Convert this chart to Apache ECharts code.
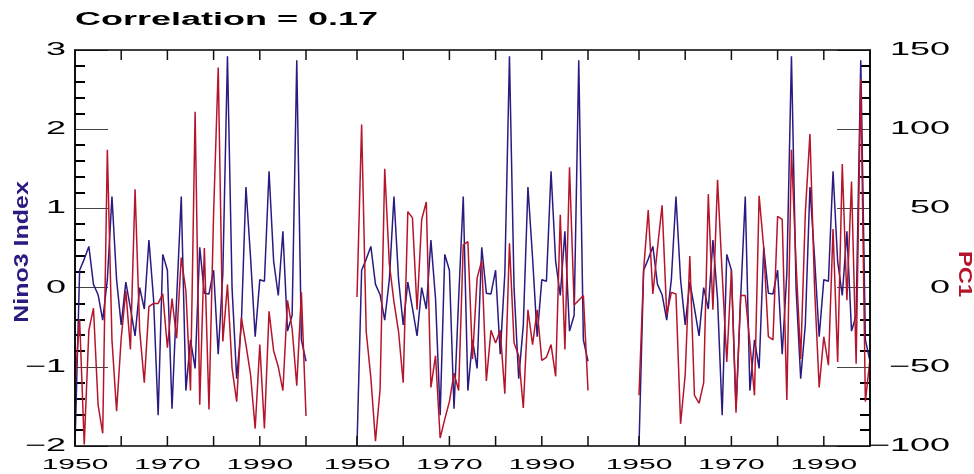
<!DOCTYPE html>
<html>
<head>
<meta charset="utf-8">
<script src="https://cdn.jsdelivr.net/npm/echarts@6/dist/echarts.min.js"></script>
<style>
  html, body { margin: 0; padding: 0; background: #ffffff; }
  #chart { width: 974px; height: 474px; background: #ffffff; }
</style>
</head>
<body>
<div id="chart"></div>
<script>
// Winter (DJF) values, one per year
const years = [
  1950, 1951, 1952, 1953, 1954, 1955, 1956, 1957, 1958, 1959,
  1960, 1961, 1962, 1963, 1964, 1965, 1966, 1967, 1968, 1969,
  1970, 1971, 1972, 1973, 1974, 1975, 1976, 1977, 1978, 1979,
  1980, 1981, 1982, 1983, 1984, 1985, 1986, 1987, 1988, 1989,
  1990, 1991, 1992, 1993, 1994, 1995, 1996, 1997, 1998, 1999, 2000
];

// Nino3 index (left axis)
const nino3 = [
  -2.00, 0.22, 0.36, 0.52, 0.04, -0.09, -0.41, 0.10, 1.15, 0.10,
  -0.47, 0.07, -0.26, -0.61, 0.00, -0.27, 0.60, -0.14, -1.61, 0.42,
  0.22, -1.53, -0.14, 1.15, -1.30, -0.66, -1.02, 0.51, -0.07, -0.08,
  0.22, -0.84, 0.18, 2.92, -0.01, -1.15, -0.47, 1.27, 0.38, -0.62,
  0.10, 0.08, 1.47, 0.33, -0.10, 0.71, -0.55, -0.35, 2.87, -0.66, -0.93
];

// PC1 of the three fields (right axis)
const pc1First = [
  -60, -20, -99, -27, -13, -74, -92, 87, -33, -78,
  -32, -2, -39, 62, -27, -60, -12, -10, -10, -4,
  -38, -7, -32, 19, -2, -65, 111, -74, 25, -77,
  47, 139, -34, 2, -51, -72, -19, -36, -55, -89,
  -36, -89, -15, -40, -50, -65, -8, -26, -62, -3, -81
];
const pc1Second = [
  -6, 103, -28, -57, -97, -64, 75, 15, -9, -28,
  -60, 48, 44, -14, 43, 54, -63, -43, -95, -83,
  -72, -54, -65, 27, 29, -45, 6, 17, -59, -27,
  -35, -27, -67, 28, -35, -43, -76, -14, -36, -14,
  -46, -44, -36, -56, 46, -39, 76, -11, -8, -5, -65
];
const pc1Third = [
  -68, 11, 49, -4, 25, 52, -17, -3, -4, -86,
  -55, 20, -68, -73, -60, 59, -14, 68, 9, -47,
  11, -79, -5, -5, -35, -68, 58, 25, -31, -33,
  45, 43, -71, 87, 15, -45, 47, 97, 0, -63,
  -31, -49, 37, -47, 78, -8, 67, -48, 132, -72, -45
];

// ticks and tick labels
const tickYears = [1950, 1960, 1970, 1980, 1990, 2000];
const labelYears = [1950, 1970, 1990];
const ninoTicks = [-2, -1, 0, 1, 2, 3];
const pcTicks = [-100, -50, 0, 50, 100, 150];
const correlation = 0.17;

const BLUE = '#2b1a80';
const RED = '#b5152b';
const FONT = '"Liberation Sans", Arial, Helvetica, sans-serif';
// expanded lettering: horizontal text is drawn twice as wide, turned text a little wider
const WIDE = 2.0;
const WIDE_TURNED = 1.25;

const chart = echarts.init(document.getElementById('chart'), null, { renderer: 'canvas' });

const PLOT_TOP = 50;
const PLOT_HEIGHT = 396;
const panelLefts = [75, 357, 639];
const PANEL_WIDTH = 231;
const pcSets = [pc1First, pc1Second, pc1Third];

const minus = v => (v < 0 ? '\u2212' + Math.abs(v) : String(v));

const grids = panelLefts.map(left => ({ left: left, top: PLOT_TOP, width: PANEL_WIDTH, height: PLOT_HEIGHT }));
// frame spanning all three panels (carries the two value axes)
grids.push({ left: 75, top: PLOT_TOP, width: 795, height: PLOT_HEIGHT });
const FRAME = 3;

const xAxes = [];
panelLefts.forEach((_, p) => {
  xAxes.push({
    type: 'value', gridIndex: p, position: 'bottom',
    min: 1950, max: 2000, interval: 10,
    axisLine: { show: false, onZero: false },
    axisTick: { show: false },
    axisLabel: { show: false },
    splitLine: { show: false }
  });
});
xAxes.push({ type: 'value', gridIndex: FRAME, min: 0, max: 1, show: false });

const tickAxisCommon = {
  axisLine: { show: true, onZero: false, lineStyle: { color: '#000', width: 1.5 } },
  axisTick: { show: true, inside: true, length: 33, lineStyle: { color: '#444', width: 1 } },
  minorTick: { show: true, splitNumber: 5, length: 10, lineStyle: { color: '#000', width: 2 } },
  axisLabel: { show: false },
  splitLine: { show: false }
};

const yAxes = [
  Object.assign({ type: 'value', gridIndex: FRAME, position: 'left', min: -2, max: 3, interval: 1 }, tickAxisCommon),
  Object.assign({ type: 'value', gridIndex: FRAME, position: 'right', min: -100, max: 150, interval: 50 }, tickAxisCommon)
];
panelLefts.forEach((_, p) => {
  yAxes.push({ type: 'value', gridIndex: p, min: -2, max: 3, show: false });
  yAxes.push({ type: 'value', gridIndex: p, min: -100, max: 150, show: false });
});

const series = [];
panelLefts.forEach((_, p) => {
  series.push({
    name: 'Nino3 Index', type: 'line',
    xAxisIndex: p, yAxisIndex: 2 + 2 * p,
    data: years.map((yr, i) => [yr, nino3[i]]),
    showSymbol: false,
    lineStyle: { color: BLUE, width: 1.5 }
  });
  series.push({
    name: 'PC1', type: 'line',
    xAxisIndex: p, yAxisIndex: 3 + 2 * p,
    data: years.map((yr, i) => [yr, pcSets[p][i]]),
    showSymbol: false,
    lineStyle: { color: RED, width: 1.5 }
  });
});

chart.setOption({
  animation: false,
  grid: grids,
  xAxis: xAxes,
  yAxis: yAxes,
  series: series
});

// Frame, year ticks and widened lettering, all placed from the axes' own scales
const yTop = chart.convertToPixel({ yAxisIndex: 0 }, 3);
const yBottom = chart.convertToPixel({ yAxisIndex: 0 }, -2);
const xLeft = chart.convertToPixel({ xAxisIndex: 0 }, 1950);
const xRight = chart.convertToPixel({ xAxisIndex: 2 }, 2000);
const TICK_LEN = 10;

const shapes = [
  {
    type: 'rect', z: 50,
    shape: { x: xLeft, y: yTop, width: xRight - xLeft, height: yBottom - yTop },
    style: { fill: 'none', stroke: '#000', lineWidth: 1.5 }
  }
];
panelLefts.forEach((_, p) => {
  tickYears.forEach(yr => {
    const px = chart.convertToPixel({ xAxisIndex: p }, yr);
    shapes.push({
      type: 'line', z: 50,
      shape: { x1: px, y1: yTop, x2: px, y2: yTop + TICK_LEN },
      style: { stroke: '#111', lineWidth: 1.5 }
    });
    shapes.push({
      type: 'line', z: 50,
      shape: { x1: px, y1: yBottom, x2: px, y2: yBottom - TICK_LEN },
      style: { stroke: '#111', lineWidth: 1.5 }
    });
  });
});

const texts = [
  {
    type: 'text', x: 75, y: 20, scaleX: WIDE, z: 50,
    style: {
      text: 'Correlation = ' + correlation.toFixed(2), textAlign: 'left', textVerticalAlign: 'middle',
      font: 'bold 18px ' + FONT, fill: '#000'
    }
  },
  {
    type: 'text', x: 22, y: 252, rotation: Math.PI / 2, scaleX: WIDE_TURNED, z: 50,
    style: {
      text: 'Nino3 Index', textAlign: 'center', textVerticalAlign: 'middle',
      font: 'bold 20px ' + FONT, fill: BLUE
    }
  },
  {
    type: 'text', x: 964, y: 274, rotation: -Math.PI / 2, scaleX: WIDE_TURNED, z: 50,
    style: {
      text: 'PC1', textAlign: 'center', textVerticalAlign: 'middle',
      font: 'bold 19px ' + FONT, fill: RED
    }
  }
];

const xLabelY = yBottom + 19;
panelLefts.forEach((_, p) => {
  labelYears.forEach(yr => {
    const px = chart.convertToPixel({ xAxisIndex: p }, yr);
    texts.push({
      type: 'text', x: px, y: xLabelY, scaleX: WIDE, z: 50,
      style: { text: String(yr), textAlign: 'center', textVerticalAlign: 'middle', font: '15px ' + FONT, fill: '#000' }
    });
  });
});
ninoTicks.forEach(v => {
  const py = chart.convertToPixel({ yAxisIndex: 0 }, v);
  texts.push({
    type: 'text', x: xLeft - 9, y: py, scaleX: WIDE, z: 50,
    style: { text: minus(v), textAlign: 'right', textVerticalAlign: 'middle', font: '18px ' + FONT, fill: '#000' }
  });
});
pcTicks.forEach(v => {
  const py = chart.convertToPixel({ yAxisIndex: 1 }, v);
  texts.push({
    type: 'text', x: xRight + 80, y: py, scaleX: WIDE, z: 50,
    style: { text: minus(v), textAlign: 'right', textVerticalAlign: 'middle', font: '18px ' + FONT, fill: '#000' }
  });
});

chart.setOption({ graphic: shapes.concat(texts) });
</script>
</body>
</html>
